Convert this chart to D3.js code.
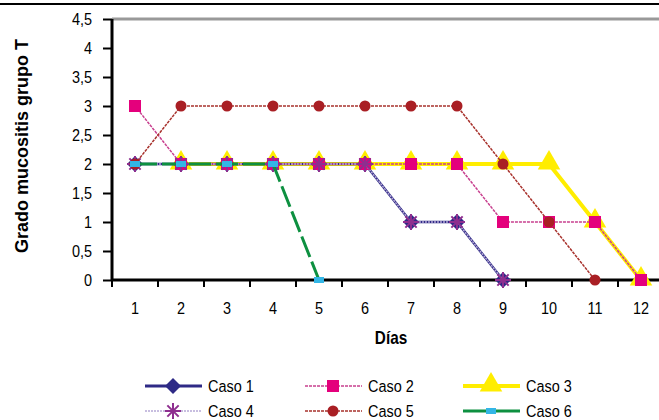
<!DOCTYPE html>
<html>
<head>
<meta charset="utf-8">
<script src="https://cdn.jsdelivr.net/npm/d3@7"></script>
<style>
  body { margin: 0; background: #fff; }
  svg { font-family: "Liberation Sans", Arial, sans-serif; }
</style>
</head>
<body>
<div id="chart"></div>
<script>
// chart data
const dias = ["1","2","3","4","5","6","7","8","9","10","11","12"];
const yTicks = [0, 0.5, 1, 1.5, 2, 2.5, 3, 3.5, 4, 4.5];
const caso1 = [2, 2, 2, 2, 2, 2, 1, 1, 0, null, null, null];
const caso2 = [3, 2, 2, 2, 2, 2, 2, 2, 1, 1, 1, 0];
const caso3 = [null, 2, 2, 2, 2, 2, 2, 2, 2, 2, 1, 0];
const caso4 = [2, 2, 2, 2, 2, 2, 1, 1, 0, null, null, null];
const caso5 = [2, 3, 3, 3, 3, 3, 3, 3, 2, 1, 0, null];
const caso6 = [2, 2, 2, 2, 0, null, null, null, null, null, null, null];

const series = [
  {name: "Caso 3", values: caso3, color: "#ffed00", width: 4, dash: null, marker: "triangle", mcolor: "#ffed00", size: 220},
  {name: "Caso 1", values: caso1, color: "#2e2a86", width: 2.5, dash: null, marker: "diamond", mcolor: "#2e2a86", size: 8},
  {name: "Caso 2", values: caso2, color: "#c8408f", width: 1.5, dash: "3,1", marker: "square", mcolor: "#e4007c", size: 150},
  {name: "Caso 4", values: caso4, color: "#b7a9d6", width: 1.5, dash: "2,1", marker: "star", mcolor: "#8e2e8f", size: 16},
  {name: "Caso 5", values: caso5, color: "#a8322d", width: 1.5, dash: "3,1", marker: "circle", mcolor: "#a91f24", size: 85},
  {name: "Caso 6", values: caso6, color: "#0d9040", width: 3, dash: "22,5", marker: "rect", mcolor: "#33b6e6", size: 0}
];
const legendOrder = ["Caso 1", "Caso 2", "Caso 3", "Caso 4", "Caso 5", "Caso 6"];

const W = 659, H = 420;
const SX = 0.85; // text in the picture is squeezed sideways
const margin = {left: 112, top: 19, bottom: 280};
const svg = d3.select("#chart").append("svg").attr("width", W).attr("height", H);

const x = d3.scaleBand().domain(dias).range([margin.left, margin.left + 46 * 12]);
const y = d3.scaleLinear().domain([0, 4.5]).range([margin.bottom, margin.top]);

// top border and gray frame line
svg.append("line").attr("x1", 0).attr("x2", W).attr("y1", 4).attr("y2", 4)
  .attr("stroke", "#000").attr("stroke-width", 2);
svg.append("line").attr("x1", margin.left).attr("x2", W).attr("y1", y(4.5)).attr("y2", y(4.5))
  .attr("stroke", "#999").attr("stroke-width", 3);

// y axis
const yAxis = svg.append("g").attr("transform", `translate(${margin.left},0)`)
  .call(d3.axisLeft(y).tickValues(yTicks).tickSize(9)
    .tickFormat(d => String(d).replace(".", ",")));
yAxis.select(".domain").attr("stroke-width", 3).attr("d", `M0,${y(0)}V${y(4.5)}`);
yAxis.selectAll(".tick line").attr("stroke-width", 2);
yAxis.selectAll("text").attr("font-size", 17).attr("fill", "#000").attr("dy", "0.35em")
  .attr("x", -20 / SX).attr("transform", `scale(${SX},1)`);

// x axis
const xAxis = svg.append("g").attr("transform", `translate(0,${y(0)})`)
  .call(d3.axisBottom(x).tickSize(0).tickPadding(22));
xAxis.select(".domain").attr("stroke-width", 3).attr("d", `M${margin.left},0H${W}`);
xAxis.selectAll("text").attr("font-size", 17).attr("fill", "#000")
  .attr("transform", `scale(${SX},1)`).attr("x", 0);
xAxis.selectAll(".bound").data(dias).enter().append("line")
  .attr("x1", d => x(d)).attr("x2", d => x(d)).attr("y1", 0).attr("y2", 7)
  .attr("stroke", "#000").attr("stroke-width", 2);

// axis titles
svg.append("g").attr("transform", `translate(391,344) scale(${SX},1)`)
  .append("text").attr("text-anchor", "middle")
  .attr("font-size", 18).attr("font-weight", "bold").text("Días");
svg.append("text").attr("transform", "translate(28,146) rotate(-90)").attr("text-anchor", "middle")
  .attr("font-size", 18).attr("font-weight", "bold").text("Grado mucositis grupo T");

const cx = d => x(d) + x.bandwidth() / 2;

function drawMarker(g, s, px, py) {
  if (s.marker === "triangle") {
    g.append("path").attr("d", d3.symbol(d3.symbolTriangle, s.size)())
      .attr("transform", `translate(${px},${py - 1})`).attr("fill", s.mcolor);
  } else if (s.marker === "diamond") {
    const r = s.size;
    g.append("path").attr("d", `M${px},${py - r}L${px + r},${py}L${px},${py + r}L${px - r},${py}Z`)
      .attr("fill", s.mcolor);
  } else if (s.marker === "square") {
    g.append("rect").attr("x", px - 6).attr("y", py - 6).attr("width", 12).attr("height", 12)
      .attr("fill", s.mcolor);
  } else if (s.marker === "circle") {
    g.append("circle").attr("cx", px).attr("cy", py).attr("r", 5.5).attr("fill", s.mcolor);
  } else if (s.marker === "star") {
    const r = 8;
    const p = [];
    for (let i = 0; i < 4; i++) {
      const a = i * Math.PI / 4;
      p.push(`M${px - r * Math.cos(a)},${py - r * Math.sin(a)}L${px + r * Math.cos(a)},${py + r * Math.sin(a)}`);
    }
    g.append("path").attr("d", p.join("")).attr("stroke", s.mcolor).attr("stroke-width", 2);
  } else if (s.marker === "rect") {
    g.append("rect").attr("x", px - 5).attr("y", py - 3).attr("width", 10).attr("height", 6)
      .attr("fill", s.mcolor);
  }
}

const line = d3.line().defined(d => d.v !== null).x(d => cx(d.day)).y(d => y(d.v));

series.forEach(s => {
  const pts = dias.map((day, i) => ({day: day, v: s.values[i]}));
  const g = svg.append("g");
  g.append("path").datum(pts).attr("d", line).attr("fill", "none")
    .attr("stroke", s.color).attr("stroke-width", s.width)
    .attr("stroke-dasharray", s.dash);
  pts.filter(d => d.v !== null).forEach(d => drawMarker(g, s, cx(d.day), y(d.v)));
});

// legend
const legX = [145, 305, 463];
const legY = [386, 411];
legendOrder.forEach((name, i) => {
  const s = series.find(d => d.name === name);
  const lx = legX[i % 3], ly = legY[Math.floor(i / 3)];
  const g = svg.append("g");
  g.append("line").attr("x1", lx).attr("x2", lx + 57).attr("y1", ly).attr("y2", ly)
    .attr("stroke", s.color).attr("stroke-width", s.width + (s.name === "Caso 1" ? 0.5 : 0))
    .attr("stroke-dasharray", s.name === "Caso 6" ? null : s.dash);
  drawMarker(g, s, lx + 28, ly);
  g.append("g").attr("transform", `translate(${lx + 63},${ly}) scale(${SX},1)`)
    .append("text").attr("dy", "0.35em").attr("font-size", 17).text(name);
});
</script>
</body>
</html>
